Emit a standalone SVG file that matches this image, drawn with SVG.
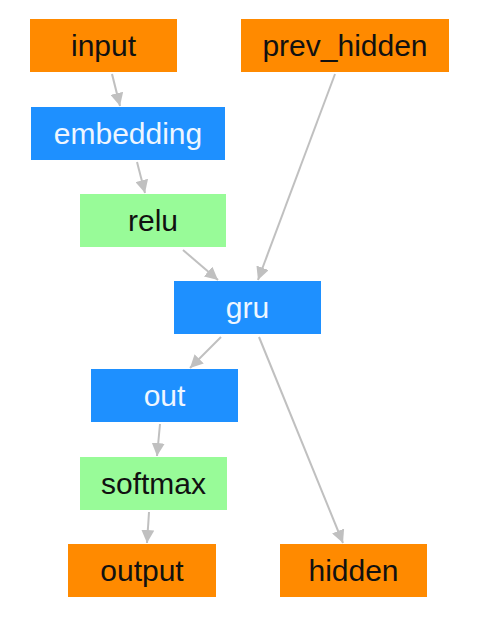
<svg xmlns="http://www.w3.org/2000/svg" width="493" height="617" viewBox="0 0 493 617">
<defs>
<style>
.orange{fill:#ff8a00}
.blue{fill:#1e90ff}
.green{fill:#98fb98}
text{font-family:"Liberation Sans",Arial,sans-serif;font-size:30px;text-anchor:middle}
.dark{fill:#111}
.light{fill:#eef6ff}
.edge{stroke:#c0c0c0;stroke-width:2;fill:none;marker-end:url(#ah)}
</style>
<marker id="ah" viewBox="0 0 10 10" refX="10" refY="5" markerWidth="6.5" markerHeight="6.5" markerUnits="strokeWidth" orient="auto">
<path d="M0,0 L10,5 L0,10 z" fill="#c0c0c0"/>
</marker>
</defs>
<rect width="493" height="617" fill="#fff"/>
<g id="connectors">
<line class="edge" x1="112" y1="74" x2="120" y2="106"/>
<line class="edge" x1="137" y1="162" x2="145" y2="193"/>
<line class="edge" x1="335" y1="74" x2="258" y2="280"/>
<line class="edge" x1="183" y1="250" x2="218" y2="280"/>
<line class="edge" x1="221" y1="337" x2="190" y2="368"/>
<line class="edge" x1="160" y1="424" x2="157" y2="456"/>
<line class="edge" x1="149" y1="512" x2="147" y2="543"/>
<line class="edge" x1="259" y1="337" x2="343" y2="543"/>
</g>
<g id="input"><rect class="orange" x="30" y="19" width="147" height="53"/><text class="dark" x="103.5" y="56">input</text></g>
<g id="prev_hidden"><rect class="orange" x="241" y="19" width="208" height="53"/><text class="dark" x="345" y="56">prev_hidden</text></g>
<g id="embedding"><rect class="blue" x="31" y="107" width="194" height="53"/><text class="light" x="128" y="144">embedding</text></g>
<g id="relu"><rect class="green" x="80" y="194" width="146" height="53"/><text class="dark" x="153" y="231">relu</text></g>
<g id="gru"><rect class="blue" x="174" y="281" width="147" height="53"/><text class="light" x="247.5" y="318">gru</text></g>
<g id="out"><rect class="blue" x="91" y="369" width="147" height="53"/><text class="light" x="164.5" y="406">out</text></g>
<g id="softmax"><rect class="green" x="80" y="457" width="147" height="53"/><text class="dark" x="153.5" y="494">softmax</text></g>
<g id="output"><rect class="orange" x="68" y="544" width="148" height="53"/><text class="dark" x="142" y="581">output</text></g>
<g id="hidden"><rect class="orange" x="280" y="544" width="147" height="53"/><text class="dark" x="353.5" y="581">hidden</text></g>
</svg>
